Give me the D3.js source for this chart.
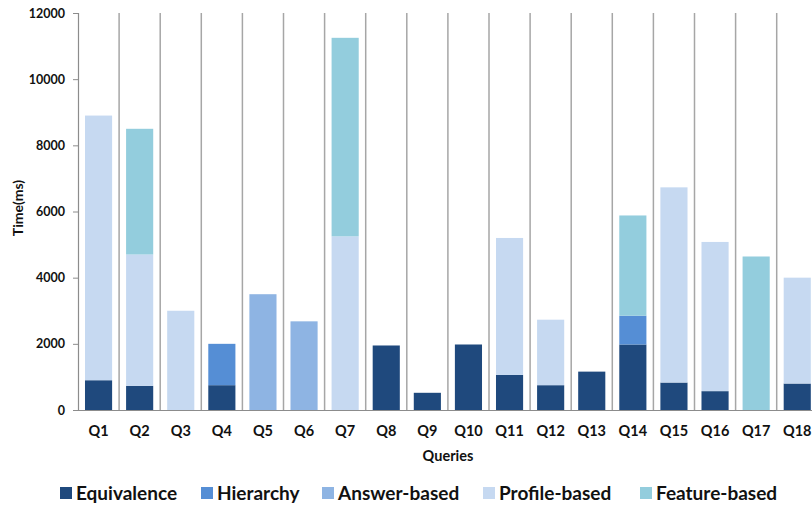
<!DOCTYPE html>
<html><head><meta charset="utf-8">
<script src="https://cdn.jsdelivr.net/npm/d3@7"></script>
<style>body{margin:0;background:#fff;overflow:hidden}svg{display:block}text{font-family:Lato,"Open Sans",sans-serif;font-weight:bold;fill:#111}</style>
</head><body><svg id="c" width="812" height="508"></svg>
<script>
const queries = ["Q1","Q2","Q3","Q4","Q5","Q6","Q7","Q8","Q9","Q10","Q11","Q12","Q13","Q14","Q15","Q16","Q17","Q18"];
const seriesNames = ["Equivalence","Hierarchy","Answer-based","Profile-based","Feature-based"];
const seriesColors = ["#1f497d","#558ed5","#8eb4e3","#c6d9f1","#93cddd"];
const equivalence  = [900,730,0,750,0,0,0,1950,520,1980,1060,750,1160,1980,830,570,0,800];
const hierarchy    = [0,0,0,1250,0,0,0,0,0,0,0,0,0,870,0,0,0,0];
const answerBased  = [0,0,0,0,3500,2680,0,0,0,0,0,0,0,0,0,0,0,0];
const profileBased = [8000,3970,3000,0,0,0,5250,0,0,0,4140,1980,0,0,5900,4510,0,3200];
const featureBased = [0,3800,0,0,0,0,6000,0,0,0,0,0,0,3030,0,0,4640,0];
const yTicks = [0,2000,4000,6000,8000,10000,12000];

const svg = d3.select("#c");
const mLeft = 78, mTop = 13, mBottom = 410;
const step = 41.1;
const x = d3.scaleBand().domain(queries).range([mLeft, mLeft + step*queries.length]).paddingInner(0.34).paddingOuter(0.17);
const y = d3.scaleLinear().domain([0,12000]).range([mBottom, mTop]);

const table = queries.map((q,i)=>({q, Equivalence:equivalence[i], Hierarchy:hierarchy[i], "Answer-based":answerBased[i], "Profile-based":profileBased[i], "Feature-based":featureBased[i]}));
const stacked = d3.stack().keys(seriesNames)(table);

// vertical separators
const bounds = d3.range(1, queries.length+1).map(i => mLeft + step*i);
svg.append("g").selectAll("line").data(bounds).join("line")
  .attr("x1",d=>d).attr("x2",d=>d).attr("y1",mTop).attr("y2",mBottom)
  .attr("stroke","#a6a6a6").attr("stroke-width",1.5);

// bars
svg.append("g").selectAll("g").data(stacked).join("g")
  .attr("fill",(d,i)=>seriesColors[i])
  .selectAll("rect").data(d=>d).join("rect")
  .attr("x",d=>x(d.data.q)).attr("width",x.bandwidth())
  .attr("y",d=>y(d[1])).attr("height",d=>y(d[0])-y(d[1]));

// y axis
const ya = svg.append("g").attr("transform",`translate(${mLeft},0)`)
  .call(d3.axisLeft(y).tickValues(yTicks).tickSize(5).tickPadding(8).tickFormat(d3.format("d")));
ya.select(".domain").attr("stroke","#8c8c8c").attr("stroke-width",1.2);
ya.selectAll(".tick line").attr("stroke","#8c8c8c");
ya.selectAll("text").attr("font-size",12.5).attr("font-family","Lato").attr("font-weight","bold").attr("fill","#111");

// x axis
const xa = svg.append("g").attr("transform",`translate(0,${mBottom})`)
  .call(d3.axisBottom(x).tickSize(0).tickPadding(16));
xa.select(".domain").attr("stroke","#8c8c8c").attr("stroke-width",1.2);
xa.selectAll("text").attr("font-size",14.5).attr("font-family","Lato").attr("font-weight","bold").attr("fill","#111");

svg.append("text").attr("x",448).attr("y",461).attr("text-anchor","middle").attr("font-size",14.5).text("Queries");
svg.append("text").attr("transform","translate(23,208) rotate(-90)").attr("text-anchor","middle").attr("font-size",14).text("Time(ms)");

// legend
const legX = [60,201,322,483,640];
const lg = svg.append("g").selectAll("g").data(seriesNames).join("g")
  .attr("transform",(d,i)=>`translate(${legX[i]},487)`);
lg.append("rect").attr("width",12).attr("height",12).attr("fill",(d,i)=>seriesColors[i]);
lg.append("text").attr("x",16).attr("y",13).attr("font-size",19).text(d=>d);
</script></body></html>
